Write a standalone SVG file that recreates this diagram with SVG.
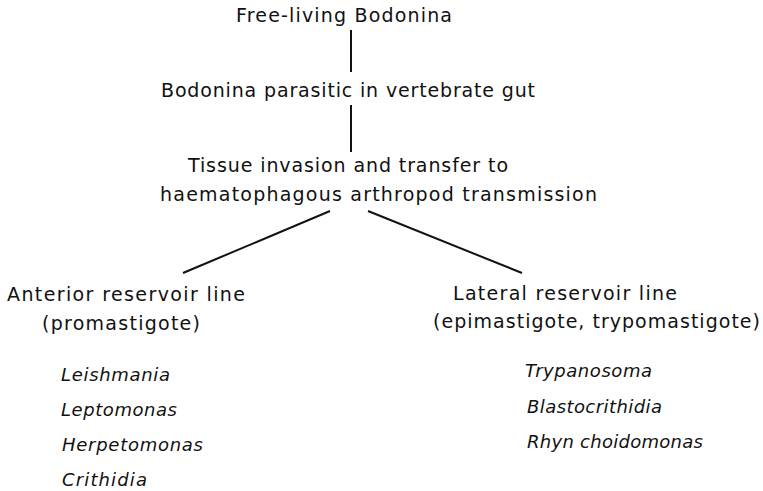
<svg xmlns="http://www.w3.org/2000/svg" width="763" height="491" viewBox="0 0 763 491">
<style>
text{font-family:"DejaVu Sans","Liberation Sans",sans-serif;font-size:19px;fill:#111}
.it{font-style:italic;font-size:18px}
.ln{stroke:#111;stroke-width:2;fill:none}
</style>
<rect width="763" height="491" fill="#fff"/>
<g id="connectors">
<line class="ln" x1="351" y1="30" x2="351" y2="72"/>
<line class="ln" x1="351" y1="105" x2="351" y2="152"/>
<line class="ln" x1="330" y1="211" x2="183" y2="273"/>
<line class="ln" x1="368" y1="211" x2="522" y2="273"/>
</g>
<g id="free-living">
<text x="236" y="22" textLength="216" lengthAdjust="spacing">Free-living Bodonina</text>
</g>
<g id="parasitic">
<text x="161" y="97" textLength="374" lengthAdjust="spacing">Bodonina parasitic in vertebrate gut</text>
</g>
<g id="tissue">
<text x="188" y="172" textLength="320" lengthAdjust="spacing">Tissue invasion and transfer to</text>
<text x="160" y="201" textLength="437" lengthAdjust="spacing">haematophagous arthropod transmission</text>
</g>
<g id="anterior">
<text x="7" y="301" textLength="238" lengthAdjust="spacing">Anterior reservoir line</text>
<text x="42" y="330" textLength="158" lengthAdjust="spacing">(promastigote)</text>
<text class="it" x="61" y="381" textLength="109" lengthAdjust="spacing">Leishmania</text>
<text class="it" x="61" y="416" textLength="116" lengthAdjust="spacing">Leptomonas</text>
<text class="it" x="62" y="451" textLength="141" lengthAdjust="spacing">Herpetomonas</text>
<text class="it" x="62" y="486" textLength="85" lengthAdjust="spacing">Crithidia</text>
</g>
<g id="lateral">
<text x="453" y="300" textLength="224" lengthAdjust="spacing">Lateral reservoir line</text>
<text x="433" y="328" textLength="327" lengthAdjust="spacing">(epimastigote, trypomastigote)</text>
<text class="it" x="525" y="377" textLength="127" lengthAdjust="spacing">Trypanosoma</text>
<text class="it" x="527" y="413" textLength="135" lengthAdjust="spacing">Blastocrithidia</text>
<text class="it" x="527" y="448" textLength="176" lengthAdjust="spacing">Rhyn choidomonas</text>
</g>
</svg>
